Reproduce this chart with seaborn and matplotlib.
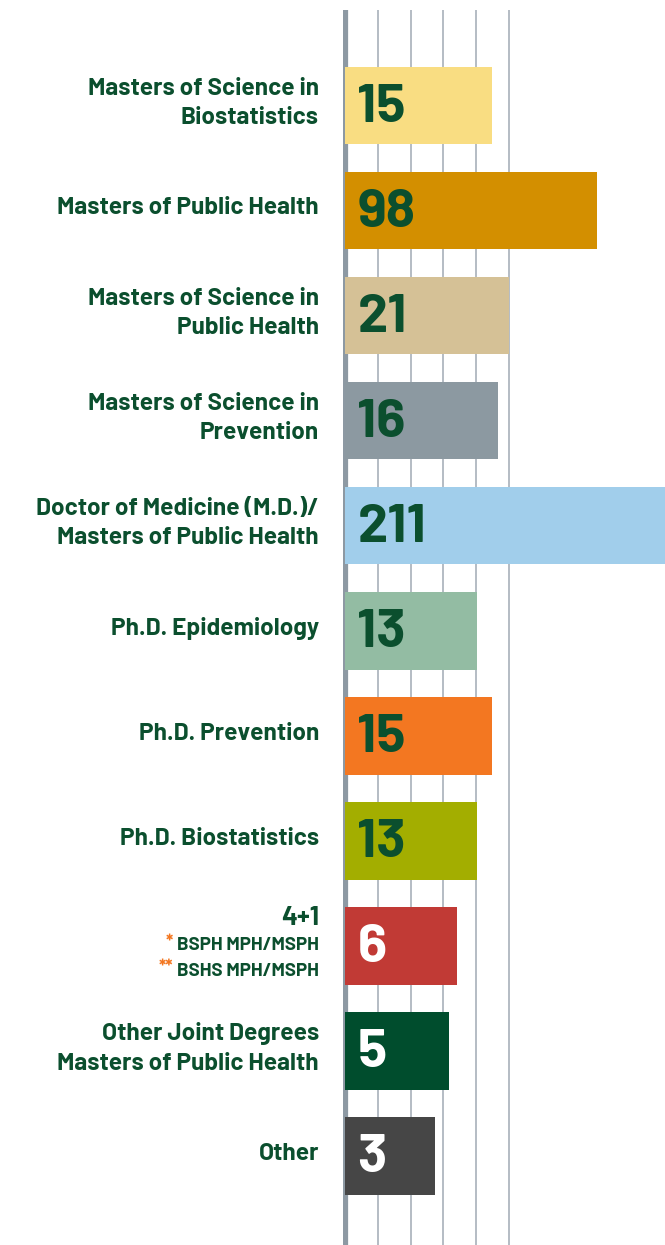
import matplotlib
matplotlib.use("Agg")
import matplotlib.pyplot as plt
import matplotlib.transforms as mtransforms
import seaborn as sns
import pandas as pd

# Degree programs and enrolment counts
programs = [
    "Masters of Science in\nBiostatistics",
    "Masters of Public Health",
    "Masters of Science in\nPublic Health",
    "Masters of Science in\nPrevention",
    "Doctor of Medicine (M.D.)/\nMasters of Public Health",
    "Ph.D. Epidemiology",
    "Ph.D. Prevention",
    "Ph.D. Biostatistics",
    "4+1",
    "Other Joint Degrees\nMasters of Public Health",
    "Other",
]
counts = [15, 98, 21, 16, 211, 13, 15, 13, 6, 5, 3]
# drawn bar length in gridline steps (the bars are not to scale in the original)
bar_length = [4.48, 7.68, 5.0, 4.66, 10.5, 4.02, 4.48, 4.02, 3.41, 3.17, 2.76]
bar_colors = ["#f9dd82", "#d38f00", "#d5c196", "#8c99a1", "#a1ceeb", "#93bca3",
              "#f37721", "#a3ae00", "#c13a35", "#004d2d", "#464646"]
number_colors = ["#0b4f2e"] * 8 + ["white"] * 3
sub_lines = ["BSPH MPH/MSPH", "BSHS MPH/MSPH"]
sub_marks = ["*", "**"]

green = "#0b4f2e"
orange = "#f37721"
font = ["Barlow", "DejaVu Sans"]

df = pd.DataFrame({"program": programs, "length": bar_length})

sns.set_style("white")
plt.rcParams["font.family"] = font

fig = plt.figure(figsize=(6.65, 12.45), dpi=100)
ax = fig.add_axes([343 / 665, 0, 1 - 343 / 665, 1 - 10 / 1245])

sns.barplot(data=df, y="program", x="length", hue="program", palette=bar_colors,
            orient="h", width=0.74, legend=False, ax=ax, saturation=1,
            linewidth=0, zorder=3)

ax.set_xlim(-0.06, 9.76)
ax.set_ylim(10.85, -0.91)
ax.set_xticks([1, 2, 3, 4, 5])
ax.grid(axis="x", color="#b4bcc4", lw=1.4, zorder=0)
ax.grid(axis="y", visible=False)
ax.axvline(0, color="#8d99a3", lw=4.5, zorder=1)
ax.set_axisbelow(True)
ax.tick_params(left=False, bottom=False, labelleft=False, labelbottom=False)
ax.set_xlabel("")
ax.set_ylabel("")
sns.despine(ax=ax, left=True, bottom=True)

# numbers inside bars
for i, n in enumerate(counts):
    ax.text(0.38, i + 0.02, str(n), ha="left", va="center", fontsize=39,
            fontweight="bold", color=number_colors[i], zorder=5)

# category labels to the left of the axis
trans = mtransforms.blended_transform_factory(fig.transFigure, ax.transData)
lx = 319 / 665
for i, label in enumerate(programs):
    if label == "4+1":
        ax.text(lx, i - 0.26, label, transform=trans, ha="right", va="center",
                fontsize=19, fontweight="bold", color=green)
        continue
    ax.text(lx, i - 0.02, label, transform=trans, ha="right", va="center",
            fontsize=17.5, fontweight="bold", color=green, linespacing=1.45)

# sub lines for 4+1 with orange asterisks
fig.canvas.draw()
renderer = fig.canvas.get_renderer()
idx = programs.index("4+1")
for k, (txt, mark) in enumerate(zip(sub_lines, sub_marks)):
    y = idx + 0.0 + 0.245 * k
    t = ax.text(lx, y, txt, transform=trans, ha="right", va="center",
                fontsize=13.5, fontweight="bold", color=green)
    bb = t.get_window_extent(renderer)
    ax.text((bb.x0 - 4) / fig.bbox.width, y - 0.03, mark, transform=trans,
            ha="right", va="center", fontsize=13, fontweight="bold", color=orange)

fig.savefig("out.png", dpi=100)
